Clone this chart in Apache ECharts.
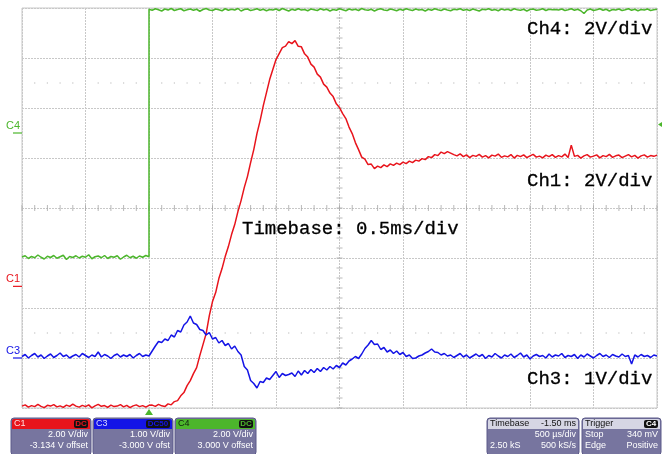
<!DOCTYPE html>
<html>
<head>
<meta charset="utf-8">
<script src="https://cdn.jsdelivr.net/npm/echarts@6/dist/echarts.min.js"></script>
<style>
  html, body { margin: 0; padding: 0; background: #ffffff; }
  #chart { width: 662px; height: 454px; }
</style>
</head>
<body>
<div id="chart"></div>
<script>
// ---- Acquisition settings ----
// Time base 0.5 ms/div over 10 divisions, trigger point at t = 0 ms
const timeMinMs = -1.0;
const timeMaxMs = 4.0;
const timePerDivMs = 0.5;
const sampleStepMs = 0.025;

// Vertical settings: V/div and offset (V) for each channel
const ch1Scale = 2, ch1Offset = -3.134;
const ch3Scale = 1, ch3Offset = -3.000;
const ch4Scale = 2, ch4Offset = 3.000;
const triggerLevelV = 0.34;

// ---- Captured waveforms (volts), one value per sample from timeMinMs ----
const ch1Volts = [
  -4.79,-4.74,-4.83,-4.77,-4.81,-4.72,-4.80,-4.85,-4.76,-4.79,
  -4.73,-4.82,-4.78,-4.84,-4.75,-4.80,-4.71,-4.79,-4.83,-4.76,
  -4.81,-4.74,-4.86,-4.78,-4.72,-4.80,-4.77,-4.84,-4.75,-4.81,
  -4.79,-4.73,-4.82,-4.76,-4.85,-4.78,-4.74,-4.81,-4.77,-4.83,
  -4.76,
  -4.75,-4.80,-4.72,-4.78,-4.81,-4.70,-4.74,
  -4.61,-4.57,-4.38,-4.25,-3.97,-3.77,-3.49,-3.25,-2.77,-2.33,-1.89,-1.17,-0.61,
  -0.25,0.31,0.71,1.19,1.59,2.07,2.47,2.99,3.43,3.95,4.39,4.95,5.47,6.11,6.63,7.23,7.75,8.27,8.67,9.07,
  9.31,9.55,9.61,9.79,9.71,9.83,9.60,9.58,9.30,9.17,8.89,8.77,8.49,8.37,8.09,7.97,7.73,7.59,7.30,7.15,
  6.91,6.71,6.37,6.11,5.75,5.47,5.17,5.09,4.87,4.89,4.71,4.81,4.75,4.86,4.79,4.90,4.84,4.93,4.87,4.97,
  4.91,5.01,4.95,5.05,5.01,5.11,5.07,5.19,5.15,5.27,5.23,5.37,5.31,5.39,
  5.33,5.27,5.22,5.30,5.19,5.26,5.15,5.24,5.20,5.28,
  5.17,5.23,5.14,5.25,5.21,5.29,5.16,5.22,5.18,5.27,
  5.13,5.24,5.19,5.26,5.15,5.22,5.28,5.17,5.21,5.14,
  5.25,5.19,5.27,5.16,5.23,5.18,5.29,5.15,5.65,5.20,
  5.24,5.13,5.22,5.27,5.17,5.21,5.26,5.14,5.23,5.19,
  5.28,5.16,5.22,5.25,5.15,5.21,5.27,5.18,5.24,5.13,
  5.22,5.26,5.17,5.23,5.20,5.25
];

const ch3Volts = [
  0.03,0.07,0.00,0.05,0.09,0.02,0.06,-0.01,0.04,0.08,
  0.01,0.05,0.10,0.03,0.06,0.00,0.04,0.07,0.02,0.09,
  0.05,0.01,0.06,0.03,0.12,0.02,0.07,0.04,-0.01,0.05,
  0.08,0.02,0.06,0.03,0.07,0.00,0.05,0.09,0.03,0.06,
  0.04,
  0.14,0.24,0.33,0.31,0.38,0.35,0.46,0.42,0.55,0.52,
  0.66,0.72,0.84,0.70,0.67,0.57,0.55,0.46,0.51,0.38,
  0.41,0.30,0.35,0.25,0.29,0.18,0.24,0.13,
  0.06,-0.17,-0.24,-0.45,-0.51,-0.60,-0.47,-0.49,-0.40,-0.43,
  -0.35,-0.27,-0.39,-0.31,-0.35,-0.33,-0.30,-0.37,-0.26,-0.34,
  -0.25,-0.31,-0.23,-0.29,-0.21,-0.27,-0.19,-0.24,-0.17,-0.22,
  -0.15,-0.19,-0.10,-0.14,-0.06,-0.02,0.03,-0.01,0.08,
  0.19,0.26,0.35,0.27,0.28,0.17,0.21,0.12,0.16,0.09,
  0.14,0.07,0.11,0.03,0.06,-0.01,0.00,0.04,0.06,0.10,
  0.13,0.18,0.12,0.11,0.06,0.09,0.04,
  0.06,0.01,0.05,0.09,0.02,0.06,0.00,0.04,0.08,0.03,
  0.07,-0.01,0.05,0.02,0.09,0.04,0.00,0.06,0.03,0.08,
  0.01,0.05,0.10,0.02,0.06,-0.02,0.04,0.07,0.03,0.05,
  0.00,0.08,0.02,0.06,0.04,0.09,0.01,0.05,0.03,0.07,
  -0.01,0.06,0.02,0.08,0.04,0.00,0.05,0.09,0.03,0.06,
  0.01,0.07,0.04,0.02,0.08,0.03,0.05,-0.12,0.06,0.02,
  0.07,0.03,0.05,0.01,0.06,0.04
];

// Ch4 before the trigger edge (from timeMinMs) and after it (from 0 ms)
const ch4LowVolts = [
  -4.96,-4.91,-5.02,-4.94,-4.99,-4.88,-4.97,-5.04,-4.93,-4.98,
  -4.90,-5.01,-4.95,-4.89,-5.06,-4.94,-4.98,-4.91,-5.00,-4.93,
  -4.97,-4.87,-5.03,-4.95,-4.92,-4.99,-4.90,-5.02,-4.94,-4.97,
  -4.91,-5.05,-4.96,-4.89,-4.99,-4.93,-5.01,-4.92,-4.97,-4.90,
  -4.95
];
const ch4HighVolts = [
  4.95,4.91,4.97,4.93,4.88,4.96,4.92,4.98,4.90,4.94,
  4.97,4.89,4.93,4.96,4.91,4.95,4.87,4.94,4.98,4.92,
  4.90,4.96,4.93,4.89,4.97,4.91,4.95,4.92,4.98,4.88,
  4.94,4.96,4.90,4.93,4.97,4.91,4.95,4.89,4.94,4.92,
  4.96,4.90,4.98,4.93,4.88,4.95,4.91,4.97,4.92,4.94,
  4.89,4.96,4.93,4.90,4.97,4.92,4.95,4.88,4.94,4.91,
  4.97,4.93,4.89,4.96,4.92,4.95,4.90,4.98,4.93,4.91,
  4.95,4.88,4.94,4.97,4.92,4.90,4.96,4.93,4.89,4.95,
  4.91,4.97,4.93,4.90,4.96,4.92,4.94,4.88,4.95,4.91,
  4.97,4.93,4.90,4.96,4.92,4.89,4.95,4.93,4.97,4.91,
  4.94,4.90,4.96,4.92,4.88,4.95,4.93,4.97,4.91,4.94,
  4.89,4.96,4.92,4.95,4.90,4.97,4.93,4.91,4.95,4.88,
  4.94,4.96,4.91,4.93,4.97,4.90,4.95,4.93,4.94,4.92,
  4.96,4.90,4.93,4.97,4.91,4.95,4.89,4.78,4.92,4.96,
  4.90,4.93,4.97,4.91,4.95,4.88,4.94,4.92,4.96,4.90,
  4.93,4.97,4.91,4.95,4.89,4.94,4.92,4.96,4.90,4.93,
  4.95
];

// Screen annotations
const scaleNotes = ['Ch4: 2V/div', 'Ch1: 2V/div', 'Timebase: 0.5ms/div', 'Ch3: 1V/div'];

// ---- Colours ----
const ch1Color = '#e8141c';
const ch3Color = '#1414e6';
const ch4Color = '#4cb62c';
const gridColor = '#c8c8c8';
const tickColor = '#a8a8a8';
const boxBody = '#77759f';

// ---- Build [t, V] pairs ----
function sampled(values, t0) {
  return values.map((v, i) => [+(t0 + i * sampleStepMs).toFixed(4), v]);
}
const ch1Data = sampled(ch1Volts, timeMinMs);
const ch3Data = sampled(ch3Volts, timeMinMs);
const ch4Data = sampled(ch4LowVolts, timeMinMs).concat(sampled(ch4HighVolts, 0));

// Graticule: minor ticks on the centre cross and dotted rows
const centreT = (timeMinMs + timeMaxMs) / 2;
const ticksOnHorizontal = [];
const ticksOnVertical = [];
const dotRows = [];
for (let k = 0; k <= 50; k++) {
  const t = timeMinMs + k * timePerDivMs / 5;
  ticksOnHorizontal.push([t, 0]);
  if (k % 5 !== 0) { dotRows.push([t, 2.5]); dotRows.push([t, -2.5]); }
}
for (let k = 0; k <= 40; k++) ticksOnVertical.push([centreT, -4 + k * 0.2]);

function channelAxis(scale, offset) {
  return {
    type: 'value', min: -4 * scale - offset, max: 4 * scale - offset,
    show: false, splitLine: { show: false }
  };
}

const option = {
  animation: false,
  backgroundColor: '#ffffff',
  grid: {
    left: 22, top: 8, width: 635, height: 400,
    show: true, borderColor: gridColor, borderWidth: 1, backgroundColor: 'transparent'
  },
  xAxis: {
    type: 'value', min: timeMinMs, max: timeMaxMs, interval: timePerDivMs,
    axisLabel: { show: false }, axisTick: { show: false }, axisLine: { show: false },
    splitLine: { show: true, lineStyle: { color: gridColor, width: 1, type: [2, 1] } }
  },
  yAxis: [
    {
      type: 'value', min: -4, max: 4, interval: 1,
      axisLabel: { show: false }, axisTick: { show: false }, axisLine: { show: false },
      splitLine: { show: true, lineStyle: { color: gridColor, width: 1, type: [2, 1] } }
    },
    channelAxis(ch1Scale, ch1Offset),
    channelAxis(ch3Scale, ch3Offset),
    channelAxis(ch4Scale, ch4Offset)
  ],
  series: [
    { type: 'scatter', data: ticksOnHorizontal, yAxisIndex: 0, symbol: 'rect', symbolSize: [1, 6],
      itemStyle: { color: tickColor }, silent: true, z: 1 },
    { type: 'scatter', data: ticksOnVertical, yAxisIndex: 0, symbol: 'rect', symbolSize: [6, 1],
      itemStyle: { color: tickColor }, silent: true, z: 1 },
    { type: 'scatter', data: dotRows, yAxisIndex: 0, symbol: 'rect', symbolSize: [1.2, 1.2],
      itemStyle: { color: tickColor }, silent: true, z: 1 },
    { type: 'line', name: 'Ch1', data: ch1Data, yAxisIndex: 1, showSymbol: false,
      lineStyle: { color: ch1Color, width: 1.5 }, z: 3 },
    { type: 'line', name: 'Ch3', data: ch3Data, yAxisIndex: 2, showSymbol: false,
      lineStyle: { color: ch3Color, width: 1.5 }, z: 4 },
    { type: 'line', name: 'Ch4', data: ch4Data, yAxisIndex: 3, showSymbol: false,
      lineStyle: { color: ch4Color, width: 1.5 }, z: 3 }
  ]
};

const chart = echarts.init(document.getElementById('chart'), null, { renderer: 'canvas' });
chart.setOption(option);

// ---- Overlays positioned from the axes ----
const zero1 = chart.convertToPixel({ yAxisIndex: 1 }, 0);
const zero3 = chart.convertToPixel({ yAxisIndex: 2 }, 0);
const zero4 = chart.convertToPixel({ yAxisIndex: 3 }, 0);
const trigX = chart.convertToPixel({ xAxisIndex: 0 }, 0);
const trigY = chart.convertToPixel({ yAxisIndex: 3 }, triggerLevelV);
const plotRight = chart.convertToPixel({ xAxisIndex: 0 }, timeMaxMs);
const plotBottom = chart.convertToPixel({ yAxisIndex: 0 }, -4);

const sansFont = '"Liberation Sans", Arial, sans-serif';
const monoFont = '"Liberation Mono", "Courier New", monospace';
const graphics = [];

function channelMarker(label, y, color) {
  graphics.push({ type: 'text', x: 6, y: y - 2, z: 10,
    style: { text: label, fill: color, font: '11px ' + sansFont, align: 'left', verticalAlign: 'bottom' } });
  graphics.push({ type: 'line', z: 10, shape: { x1: 13, y1: y, x2: 22, y2: y },
    style: { stroke: color, lineWidth: 1.2 } });
}
channelMarker('C4', zero4, ch4Color);
channelMarker('C1', zero1, ch1Color);
channelMarker('C3', zero3, ch3Color);

// trigger position (bottom) and trigger level (right)
graphics.push({ type: 'polygon', z: 10,
  shape: { points: [[trigX - 4, plotBottom + 7], [trigX + 4, plotBottom + 7], [trigX, plotBottom + 1]] },
  style: { fill: ch4Color } });
graphics.push({ type: 'polygon', z: 10,
  shape: { points: [[plotRight + 1, trigY], [plotRight + 6, trigY - 3], [plotRight + 6, trigY + 3]] },
  style: { fill: ch4Color } });

// scale annotations
const notePos = [[527, 29], [527, 181], [242, 229], [527, 379]];
scaleNotes.forEach((txt, i) => {
  graphics.push({ type: 'text', x: notePos[i][0], y: notePos[i][1], z: 12,
    style: { text: txt, fill: '#000000', font: '19px ' + monoFont, align: 'left', verticalAlign: 'middle',
      stroke: '#000000', lineWidth: 0.3 } });
});

// info boxes along the bottom
function infoBox(x, w, head, lines) {
  const y = 418, h = 37, headH = 10;
  graphics.push({ type: 'rect', z: 10, shape: { x: x, y: y, width: w, height: h, r: 3 },
    style: { fill: boxBody, stroke: '#5d5b8a', lineWidth: 1 } });
  graphics.push({ type: 'rect', z: 11, shape: { x: x + 1, y: y + 1, width: w - 2, height: headH, r: [2, 2, 0, 0] },
    style: { fill: head.color } });
  graphics.push({ type: 'text', z: 12, x: x + 3, y: y + 1 + headH / 2,
    style: { text: head.label, fill: head.labelColor, font: '9px ' + sansFont, verticalAlign: 'middle' } });
  if (head.right) {
    graphics.push({ type: 'text', z: 12, x: x + w - 3, y: y + 1 + headH / 2,
      style: { text: head.right, fill: head.labelColor, font: '9px ' + sansFont, align: 'right', verticalAlign: 'middle' } });
  }
  if (head.badge) {
    const bw = head.badge.length * 5 + 4;
    graphics.push({ type: 'rect', z: 12, shape: { x: x + w - 3 - bw, y: y + 2, width: bw, height: headH - 2, r: 2 },
      style: { fill: '#111111' } });
    graphics.push({ type: 'text', z: 13, x: x + w - 3 - bw / 2, y: y + 1 + headH / 2,
      style: { text: head.badge, fill: head.badgeColor, font: 'bold 8px ' + sansFont, align: 'center', verticalAlign: 'middle' } });
  }
  lines.forEach((ln, i) => {
    const ly = y + 17 + i * 10.5;
    if (ln[0]) graphics.push({ type: 'text', z: 12, x: x + 3, y: ly,
      style: { text: ln[0], fill: '#ffffff', font: '9px ' + sansFont, verticalAlign: 'middle' } });
    if (ln[1]) graphics.push({ type: 'text', z: 12, x: x + w - 3, y: ly,
      style: { text: ln[1], fill: '#ffffff', font: '9px ' + sansFont, align: 'right', verticalAlign: 'middle' } });
  });
}
infoBox(11, 80, { color: ch1Color, label: 'C1', labelColor: '#ffe0e0', badge: 'DC', badgeColor: ch1Color },
  [['', ch1Scale.toFixed(2) + ' V/div'], ['', ch1Offset.toFixed(3) + ' V offset']]);
infoBox(93, 80, { color: ch3Color, label: 'C3', labelColor: '#d8d8ff', badge: 'DC50', badgeColor: ch3Color },
  [['', ch3Scale.toFixed(2) + ' V/div'], ['', ch3Offset.toFixed(3) + ' V ofst']]);
infoBox(175, 81, { color: ch4Color, label: 'C4', labelColor: '#102010', badge: 'DC', badgeColor: ch4Color },
  [['', ch4Scale.toFixed(2) + ' V/div'], ['', ch4Offset.toFixed(3) + ' V offset']]);
infoBox(487, 92, { color: '#d6d6e4', label: 'Timebase', labelColor: '#111111', right: '-1.50 ms' },
  [['', '500 µs/div'], ['2.50 kS', '500 kS/s']]);
infoBox(582, 79, { color: '#d6d6e4', label: 'Trigger', labelColor: '#111111', badge: 'C4', badgeColor: '#ffffff' },
  [['Stop', (triggerLevelV * 1000).toFixed(0) + ' mV'], ['Edge', 'Positive']]);

chart.setOption({ graphic: graphics });
</script>
</body>
</html>
